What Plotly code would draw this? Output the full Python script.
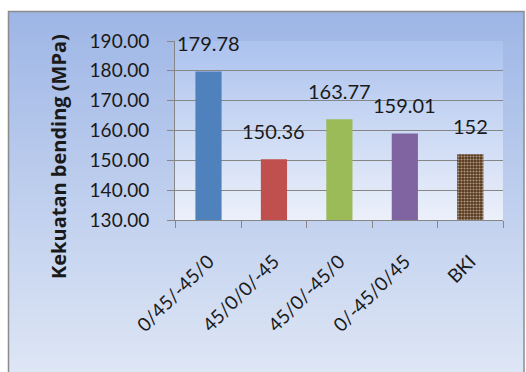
import base64, struct, zlib
import plotly.graph_objects as go

categories = ["0/45/-45/0", "45/0/0/-45", "45/0/-45/0", "0/-45/0/45", "BKI"]
values = [179.78, 150.36, 163.77, 159.01, 152]
labels = ["179.78", "150.36", "163.77", "159.01", "152"]
y_ticks = [130, 140, 150, 160, 170, 180, 190]
colors = ["#4f81bd", "#c0504d", "#9bbb59", "#8064a2", "#573719"]

W, H = 526, 372
ML, MR, MT, MB = 175, 23, 41, 152
PW, PH = W - ML - MR, H - MT - MB


def grad_png(top, bottom, h=128, w=4):
    raw = b""
    for r in range(h):
        t = r / (h - 1)
        c = bytes(int(round(top[i] + (bottom[i] - top[i]) * t)) for i in range(3))
        raw += b"\x00" + c * w

    def chunk(tag, data):
        return struct.pack(">I", len(data)) + tag + data + struct.pack(">I", zlib.crc32(tag + data) & 0xffffffff)

    png = b"\x89PNG\r\n\x1a\n" + chunk(b"IHDR", struct.pack(">IIBBBBB", w, h, 8, 2, 0, 0, 0))
    png += chunk(b"IDAT", zlib.compress(raw)) + chunk(b"IEND", b"")
    return "data:image/png;base64," + base64.b64encode(png).decode()


def px_x(px):
    return (px - ML) / PW


def px_y(py):
    return (H - MB - py) / PH


fig = go.Figure()
fig.add_trace(go.Bar(
    x=categories, y=values,
    marker=dict(color=colors, line=dict(width=0),
                pattern=dict(shape=["", "", "", "", "."], fgcolor="#3a220f",
                             size=3, solidity=0.4)),
    width=0.4,
))

for c, v, t in zip(categories, values, labels):
    fig.add_annotation(x=c, y=v, text=t, showarrow=False, yanchor="bottom", yshift=14,
                       font=dict(family="Lato", size=20, color="#1a1a1a"))

fig.add_annotation(xref="paper", yref="paper", x=px_x(58), y=px_y(157), text="<b>Kekuatan bending (MPa)</b>",
                   textangle=-90, showarrow=False, xanchor="center", yanchor="middle",
                   font=dict(family="Open Sans", size=20, color="#1a1a1a"))

# backgrounds
fig.add_layout_image(source=grad_png((158, 182, 230), (222, 230, 245)), xref="paper", yref="paper",
                     x=px_x(8), y=px_y(11), sizex=(524 - 8) / PW, sizey=(372 - 11) / PH,
                     xanchor="left", yanchor="top", sizing="stretch", layer="below")
fig.add_layout_image(source=grad_png((172, 195, 238), (236, 240, 250)), xref="paper", yref="paper",
                     x=0, y=1, sizex=1, sizey=1,
                     xanchor="left", yanchor="top", sizing="stretch", layer="below")
fig.add_shape(type="rect", xref="paper", yref="paper", x0=px_x(8.5), x1=px_x(524), y0=px_y(11.5), y1=px_y(380),
              line=dict(color="#8c8c8c", width=1.5), fillcolor="rgba(0,0,0,0)", layer="below")

fig.update_layout(
    width=W, height=H,
    margin=dict(l=ML, r=MR, t=MT, b=MB),
    paper_bgcolor="white", plot_bgcolor="rgba(0,0,0,0)",
    showlegend=False, bargap=0.6,
    xaxis=dict(showline=True, linecolor="#868686", linewidth=1, ticks="outside", tickson="boundaries",
               ticklen=7, tickcolor="#868686", tickangle=-45, showgrid=False,
               tickfont=dict(family="Lato", size=19, color="#1a1a1a"), ticklabelstandoff=22),
    yaxis=dict(range=[130, 190], tickvals=y_ticks, tickformat=".2f", showline=True, linecolor="#868686",
               linewidth=1, ticks="outside", ticklen=7, tickcolor="#868686", showgrid=True,
               gridcolor="#868686", gridwidth=1, zeroline=False,
               tickfont=dict(family="Lato", size=19, color="#1a1a1a"), ticklabelstandoff=14),
)

fig.write_html("out.html")
